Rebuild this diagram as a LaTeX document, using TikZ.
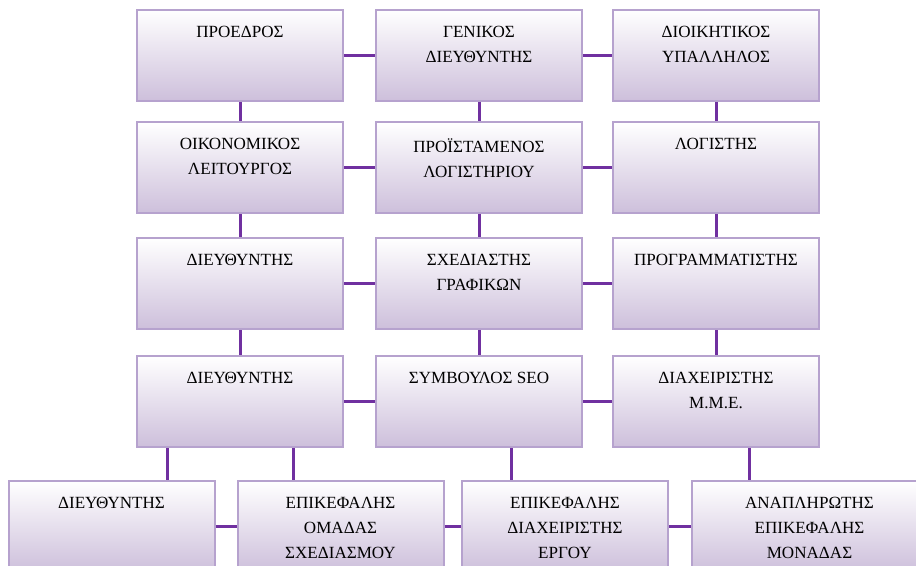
\documentclass[tikz,border=0pt]{standalone}
\usepackage{fontspec}
\setmainfont{Liberation Serif}
\definecolor{unitline}{HTML}{B6A2CE}
\definecolor{unitfill}{HTML}{CDBFDB}
\definecolor{linkcol}{HTML}{7030A0}
\begin{document}
\begin{tikzpicture}[x=0.75pt, y=-0.75pt,
	unit/.style={draw=unitline, line width=1.5pt, top color=white, bottom color=unitfill, minimum width=154.5pt, minimum height=68.25pt, inner sep=0pt},
	jobtitle/.style={anchor=north, yshift=-12.5pt, align=center, inner sep=0pt, text=black, font=\fontsize{12.8}{18.75}\selectfont},
	link/.style={draw=linkcol, line width=2.25pt}]
	\clip (0, 0) rectangle (916, 566);
	
	% first row
	\node[unit, label={[jobtitle]north:ΠΡΟΕΔΡΟΣ}] (pres) at (240, 55.5) {};
	\node[unit, label={[jobtitle]north:ΓΕΝΙΚΟΣ\\ΔΙΕΥΘΥΝΤΗΣ}] (genmgr) at (479, 55.5) {};
	\node[unit, label={[jobtitle]north:ΔΙΟΙΚΗΤΙΚΟΣ\\ΥΠΑΛΛΗΛΟΣ}] (clerk) at (716, 55.5) {};
	
	% second row
	\node[unit, label={[jobtitle]north:ΟΙΚΟΝΟΜΙΚΟΣ\\ΛΕΙΤΟΥΡΓΟΣ}] (finance) at (240, 168) {};
	\node[unit, label={[jobtitle]north:ΠΡΟΪΣΤΑΜΕΝΟΣ\\ΛΟΓΙΣΤΗΡΙΟΥ}] (acchead) at (479, 168) {};
	\node[unit, label={[jobtitle]north:ΛΟΓΙΣΤΗΣ}] (acc) at (716, 168) {};
	
	% third row
	\node[unit, label={[jobtitle]north:ΔΙΕΥΘΥΝΤΗΣ}] (dir-a) at (240, 283.5) {};
	\node[unit, label={[jobtitle]north:ΣΧΕΔΙΑΣΤΗΣ\\ΓΡΑΦΙΚΩΝ}] (graph) at (479, 283.5) {};
	\node[unit, label={[jobtitle]north:ΠΡΟΓΡΑΜΜΑΤΙΣΤΗΣ}] (prog) at (716, 283.5) {};
	
	% fourth row
	\node[unit, label={[jobtitle]north:ΔΙΕΥΘΥΝΤΗΣ}] (dir-b) at (240, 401.5) {};
	\node[unit, label={[jobtitle]north:ΣΥΜΒΟΥΛΟΣ SEO}] (seo) at (479, 401.5) {};
	\node[unit, label={[jobtitle]north:ΔΙΑΧΕΙΡΙΣΤΗΣ\\Μ.Μ.Ε.}] (media) at (716, 401.5) {};
	
	% last row
	\node[unit, label={[jobtitle]north:ΔΙΕΥΘΥΝΤΗΣ}] (dir-c) at (111.5, 526.5) {};
	\node[unit, label={[jobtitle]north:ΕΠΙΚΕΦΑΛΗΣ\\ΟΜΑΔΑΣ\\ΣΧΕΔΙΑΣΜΟΥ}] (design) at (340.5, 526.5) {};
	\node[unit, label={[jobtitle]north:ΕΠΙΚΕΦΑΛΗΣ\\ΔΙΑΧΕΙΡΙΣΤΗΣ\\ΕΡΓΟΥ}] (project) at (565, 526.5) {};
	\node[unit, minimum width=176.25pt, label={[jobtitle]north:ΑΝΑΠΛΗΡΩΤΗΣ\\ΕΠΙΚΕΦΑΛΗΣ\\ΜΟΝΑΔΑΣ}] (deputy) at (809.5, 526.5) {};
	
	\draw[link] (pres) -- (genmgr) (genmgr) -- (clerk);
	\draw[link] (finance) -- (acchead) (acchead) -- (acc);
	\draw[link] (dir-a) -- (graph) (graph) -- (prog);
	\draw[link] (dir-b) -- (seo) (seo) -- (media);
	\draw[link] (dir-c) -- (design) (design) -- (project) (project) -- (deputy);
	
	\draw[link] (pres) -- (finance) (finance) -- (dir-a) (dir-a) -- (dir-b);
	\draw[link] (genmgr) -- (acchead) (acchead) -- (graph) (graph) -- (seo);
	\draw[link] (clerk) -- (acc) (acc) -- (prog) (prog) -- (media);
	
	\draw[link] ([xshift=-54.75pt]dir-b.south) -- ([xshift=-54.75pt]dir-b.south |- dir-c.north);
	\draw[link] ([xshift=39.75pt]dir-b.south) -- ([xshift=39.75pt]dir-b.south |- design.north);
	\draw[link] ([xshift=24pt]seo.south) -- ([xshift=24pt]seo.south |- project.north);
	\draw[link] ([xshift=24.75pt]media.south) -- ([xshift=24.75pt]media.south |- deputy.north);
\end{tikzpicture}
\end{document}
